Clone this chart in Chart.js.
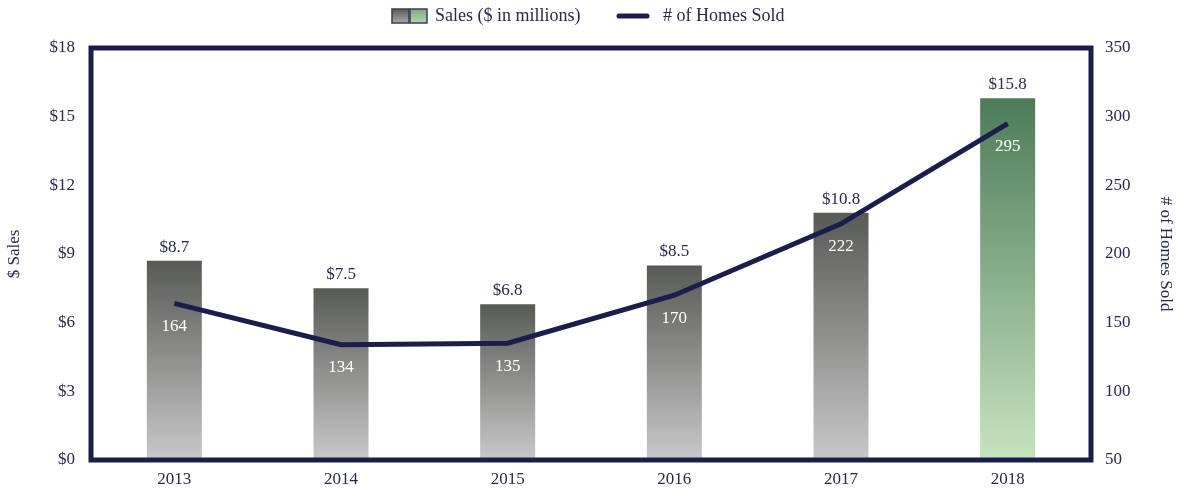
<!DOCTYPE html>
<html lang="en">
<head>
    <meta charset="UTF-8">
    <title>Sales and Homes Sold</title>
    <script src="https://cdn.jsdelivr.net/npm/chart.js"></script>
    <style>
        body {
            margin: 0;
            padding: 0;
            background: #ffffff;
        }

        #wrap {
            width: 1180px;
            height: 491px;
            position: relative;
        }
    </style>
</head>
<body>
    <div id="wrap">
        <canvas id="salesChart"></canvas>
    </div>

    <script>
        // Daten
        const years = ['2013', '2014', '2015', '2016', '2017', '2018'];
        const salesMillions = [8.7, 7.5, 6.8, 8.5, 10.8, 15.8];
        const homesSold = [164, 134, 135, 170, 222, 295];
        const salesTickValues = [0, 3, 6, 9, 12, 15, 18];
        const homesTickValues = [50, 100, 150, 200, 250, 300, 350];
        const legendLabels = ['Sales ($ in millions)', '# of Homes Sold'];

        const navy = '#1b1e4b';
        const textColor = '#262a52';
        const fontFamily = "'Liberation Serif', 'DejaVu Serif', serif";

        // Farbverlauf pro Balken (oben dunkel, unten hell)
        function barGradient(context) {
            const chart = context.chart;
            const { ctx, chartArea, scales } = chart;
            if (!chartArea || context.dataIndex === undefined) return '#6b6d69';
            const value = context.dataset.data[context.dataIndex];
            const top = scales.y.getPixelForValue(value);
            const base = scales.y.getPixelForValue(0);
            const g = ctx.createLinearGradient(0, top, 0, base);
            if (context.dataIndex === years.length - 1) {
                g.addColorStop(0, '#4d7b59');
                g.addColorStop(1, '#c6e4be');
            } else {
                g.addColorStop(0, '#585a56');
                g.addColorStop(1, '#c8c8c8');
            }
            return g;
        }

        // Rahmen um die Zeichenfläche
        const framePlugin = {
            id: 'frame',
            afterDatasetsDraw(chart) {
                const { ctx, chartArea } = chart;
                ctx.save();
                ctx.strokeStyle = navy;
                ctx.lineWidth = 5;
                ctx.strokeRect(chartArea.left, chartArea.top, chartArea.right - chartArea.left, chartArea.bottom - chartArea.top);
                ctx.restore();
            }
        };

        // Werte über den Balken und unter den Linienpunkten
        const valueLabels = {
            id: 'valueLabels',
            afterDatasetsDraw(chart) {
                const ctx = chart.ctx;
                ctx.save();
                ctx.font = '17px ' + fontFamily;
                ctx.textAlign = 'center';

                const bars = chart.getDatasetMeta(0).data;
                ctx.fillStyle = textColor;
                ctx.textBaseline = 'bottom';
                bars.forEach((bar, i) => {
                    ctx.fillText('$' + salesMillions[i].toFixed(1), bar.x, bar.y - 5);
                });

                const points = chart.getDatasetMeta(1).data;
                ctx.fillStyle = '#ffffff';
                ctx.textBaseline = 'middle';
                points.forEach((pt, i) => {
                    ctx.fillText(String(homesSold[i]), bars[i].x, pt.y + 23);
                });
                ctx.restore();
            }
        };

        // Legende oben
        const topLegend = {
            id: 'topLegend',
            afterDraw(chart) {
                const ctx = chart.ctx;
                ctx.save();
                const y = 16;

                // Kästchen grau / grün
                const boxes = [
                    { x: 392, top: '#585a56', bottom: '#a9a9a7' },
                    { x: 410, top: '#7fa985', bottom: '#b2d6ad' }
                ];
                boxes.forEach(b => {
                    const g = ctx.createLinearGradient(0, y - 7, 0, y + 7);
                    g.addColorStop(0, b.top);
                    g.addColorStop(1, b.bottom);
                    ctx.fillStyle = g;
                    ctx.fillRect(b.x, y - 7, 17, 14);
                    ctx.strokeStyle = '#3a3d5e';
                    ctx.lineWidth = 1.5;
                    ctx.strokeRect(b.x, y - 7, 17, 14);
                });

                ctx.font = '18px ' + fontFamily;
                ctx.fillStyle = textColor;
                ctx.textAlign = 'left';
                ctx.textBaseline = 'middle';
                ctx.fillText(legendLabels[0], 435, y);

                ctx.strokeStyle = navy;
                ctx.lineWidth = 5;
                ctx.lineCap = 'round';
                ctx.beginPath();
                ctx.moveTo(619, y);
                ctx.lineTo(647, y);
                ctx.stroke();

                ctx.fillText(legendLabels[1], 663, y);
                ctx.restore();
            }
        };

        const chart = new Chart(document.getElementById('salesChart'), {
            type: 'bar',
            data: {
                labels: years,
                datasets: [
                    {
                        type: 'bar',
                        label: legendLabels[0],
                        data: salesMillions,
                        yAxisID: 'y',
                        backgroundColor: barGradient,
                        barPercentage: 0.33,
                        categoryPercentage: 1,
                        order: 2
                    },
                    {
                        type: 'line',
                        label: legendLabels[1],
                        data: homesSold,
                        yAxisID: 'y1',
                        borderColor: navy,
                        borderWidth: 5,
                        pointRadius: 0,
                        tension: 0,
                        order: 1
                    }
                ]
            },
            options: {
                responsive: true,
                maintainAspectRatio: false,
                animation: false,
                layout: {
                    padding: { top: 48 }
                },
                plugins: {
                    legend: { display: false },
                    tooltip: { enabled: false }
                },
                scales: {
                    x: {
                        grid: { display: false, drawTicks: false },
                        border: { display: false },
                        ticks: {
                            color: textColor,
                            padding: 9,
                            font: { family: fontFamily, size: 17 }
                        },
                        afterFit(scale) { scale.height = 31; }
                    },
                    y: {
                        position: 'left',
                        min: 0,
                        max: 18,
                        afterBuildTicks(scale) {
                            scale.ticks = salesTickValues.map(v => ({ value: v }));
                        },
                        grid: { display: false, drawTicks: false },
                        border: { display: false },
                        ticks: {
                            color: textColor,
                            padding: 16,
                            font: { family: fontFamily, size: 17 },
                            callback: v => '$' + v
                        },
                        title: {
                            display: true,
                            text: '$ Sales',
                            color: textColor,
                            font: { family: fontFamily, size: 17 }
                        },
                        afterFit(scale) { scale.width = 91; }
                    },
                    y1: {
                        position: 'right',
                        min: 50,
                        max: 350,
                        afterBuildTicks(scale) {
                            scale.ticks = homesTickValues.map(v => ({ value: v }));
                        },
                        grid: { display: false, drawTicks: false },
                        border: { display: false },
                        ticks: {
                            color: textColor,
                            padding: 14,
                            font: { family: fontFamily, size: 17 }
                        },
                        title: {
                            display: true,
                            text: '# of Homes Sold',
                            color: textColor,
                            font: { family: fontFamily, size: 17 }
                        },
                        afterFit(scale) { scale.width = 89; }
                    }
                }
            },
            plugins: [framePlugin, valueLabels, topLegend]
        });
    </script>
</body>
</html>
